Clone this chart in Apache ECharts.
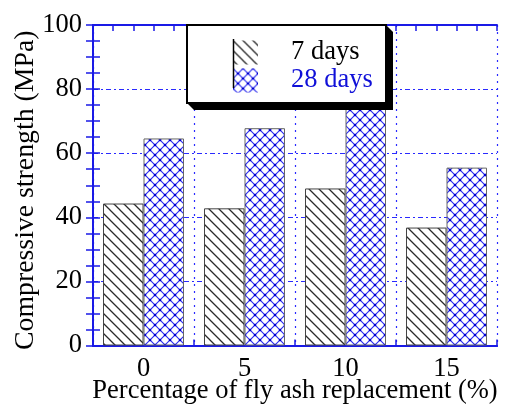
<!DOCTYPE html>
<html>
<head>
<meta charset="utf-8">
<script src="https://cdn.jsdelivr.net/npm/echarts@6/dist/echarts.min.js"></script>
<style>
  html, body { margin: 0; padding: 0; background: #fff; }
  #chart { width: 505px; height: 405px; }
</style>
</head>
<body>
<div id="chart"></div>
<script>
// Fly ash replacement levels (%) and compressive strength (MPa)
const categories = ['0', '5', '10', '15'];
const seriesNames = ['7 days', '28 days'];
const strength7 = [44.3, 42.8, 49.0, 36.8];
const strength28 = [64.6, 67.8, 76.0, 55.5];

const FONT = 'Liberation Serif';
const FS = 26.5;
const BLUE = '#1a1ae6';

// Diagonal hatch (\) for the 7-day bars
function hatchPattern() {
  const s = 10;
  const c = document.createElement('canvas');
  c.width = s; c.height = s;
  const g = c.getContext('2d');
  g.fillStyle = '#fff';
  g.fillRect(0, 0, s, s);
  g.strokeStyle = '#2a2a2a';
  g.lineWidth = 1.3;
  g.beginPath();
  g.moveTo(-1, -1); g.lineTo(s + 1, s + 1);
  g.moveTo(-1, s - 1); g.lineTo(1, s + 1);
  g.moveTo(s - 1, -1); g.lineTo(s + 1, 1);
  g.stroke();
  return c;
}

// Blue cross-hatch with dots at the crossings for the 28-day bars
function crossPattern() {
  const s = 10;
  const c = document.createElement('canvas');
  c.width = s; c.height = s;
  const g = c.getContext('2d');
  g.fillStyle = '#fff';
  g.fillRect(0, 0, s, s);
  g.strokeStyle = '#2a2af0';
  g.lineWidth = 1.1;
  g.beginPath();
  g.moveTo(0, 0); g.lineTo(s, s);
  g.moveTo(s, 0); g.lineTo(0, s);
  g.stroke();
  g.fillStyle = '#0000d0';
  const dots = [[5, 5], [0, 0], [s, 0], [0, s], [s, s]];
  dots.forEach(function (d) {
    g.beginPath();
    g.arc(d[0], d[1], 1.3, 0, Math.PI * 2);
    g.fill();
  });
  return c;
}

const fill7 = { image: hatchPattern(), repeat: 'repeat' };
const fill28 = { image: crossPattern(), repeat: 'repeat' };

const chart = echarts.init(document.getElementById('chart'), null, { renderer: 'canvas' });

const vGrid = { show: true, lineStyle: { color: '#2a2aff', width: 1.2, type: [2, 5] } };
const hGrid = { show: true, lineStyle: { color: '#2a2aff', width: 1.2, type: [5, 3, 2, 3] } };
const axisLineBlue = { show: true, lineStyle: { color: BLUE, width: 2 } };
const tickStyle = { color: BLUE, width: 1.5 };

const option = {
  animation: false,
  backgroundColor: '#fff',
  grid: { left: 93, right: 8, top: 25, bottom: 59.5, containLabel: false, outerBoundsMode: 'none' },
  xAxis: [
    {
      type: 'category',
      data: categories,
      position: 'bottom',
      boundaryGap: true,
      axisLine: axisLineBlue,
      axisTick: { show: false },
      axisLabel: { color: '#000', fontFamily: FONT, fontSize: FS, margin: 10 },
      splitLine: vGrid,
      name: 'Percentage of fly ash replacement (%)',
      nameLocation: 'middle',
      nameGap: 32,
      nameMoveOverlap: false,
      nameTextStyle: { color: '#000', fontFamily: FONT, fontSize: FS }
    },
    {
      // minor ticks along the bottom edge
      type: 'value', position: 'bottom', min: 0, max: 20, interval: 1,
      axisLine: axisLineBlue,
      axisTick: { show: true, inside: true, length: 6, lineStyle: tickStyle },
      axisLabel: { show: false }, splitLine: { show: false }
    },
    {
      // minor ticks along the top edge
      type: 'value', position: 'top', min: 0, max: 20, interval: 1,
      axisLine: axisLineBlue,
      axisTick: { show: true, inside: true, length: 6, lineStyle: tickStyle },
      axisLabel: { show: false }, splitLine: { show: false }
    }
  ],
  yAxis: [
    {
      type: 'value', position: 'left', min: 0, max: 100, interval: 20,
      axisLine: axisLineBlue,
      axisTick: { show: true, inside: true, length: 7, lineStyle: tickStyle },
      minorTick: { show: true, splitNumber: 4, length: 7, lineStyle: tickStyle },
      axisLabel: { color: '#000', fontFamily: FONT, fontSize: FS, margin: 11 },
      splitLine: hGrid,
      name: 'Compressive strength (MPa)',
      nameLocation: 'middle',
      nameGap: 53,
      nameMoveOverlap: false,
      nameTextStyle: { color: '#000', fontFamily: FONT, fontSize: 27.8, padding: [0, 10, 0, 0] }
    },
    {
      type: 'value', position: 'right', min: 0, max: 100, interval: 20,
      axisLine: axisLineBlue,
      axisTick: { show: true, inside: true, length: 7, lineStyle: tickStyle },
      minorTick: { show: true, splitNumber: 4, length: 7, lineStyle: tickStyle },
      axisLabel: { show: false },
      splitLine: { show: false }
    }
  ],
  legend: {
    orient: 'vertical',
    left: 233, top: 39,
    padding: 0,
    itemGap: 1,
    itemWidth: 25, itemHeight: 24,
    icon: 'rect',
    z: 20,
    itemStyle: { borderWidth: 0 },
    textStyle: { fontFamily: FONT, fontSize: FS, lineHeight: 24, padding: [0, 0, 0, 28] },
    data: [
      { name: seriesNames[0], textStyle: { color: '#000' } },
      { name: seriesNames[1], textStyle: { color: '#1010d8' } }
    ]
  },
  graphic: [
    {
      type: 'polygon', z: 15,
      shape: { points: [[386, 25], [393, 32], [393, 110], [194, 110], [187, 103]] },
      style: { fill: '#000' }
    },
    {
      type: 'rect', z: 16,
      shape: { x: 187, y: 25, width: 199, height: 78 },
      style: { fill: '#fff', stroke: '#000', lineWidth: 2 }
    },
    {
      type: 'line', z: 25,
      shape: { x1: 233.5, y1: 39, x2: 233.5, y2: 88 },
      style: { stroke: '#000', lineWidth: 1.5 }
    }
  ],
  series: [
    {
      name: seriesNames[0], type: 'bar', xAxisIndex: 0, yAxisIndex: 0,
      data: strength7, barWidth: 40.5, barGap: '0%',
      itemStyle: { color: fill7, borderColor: '#444', borderWidth: 1 }
    },
    {
      name: seriesNames[1], type: 'bar', xAxisIndex: 0, yAxisIndex: 0,
      data: strength28, barWidth: 40.5, barGap: '0%',
      itemStyle: { color: fill28, borderColor: '#666', borderWidth: 1 }
    }
  ]
};

chart.setOption(option);
</script>
</body>
</html>
